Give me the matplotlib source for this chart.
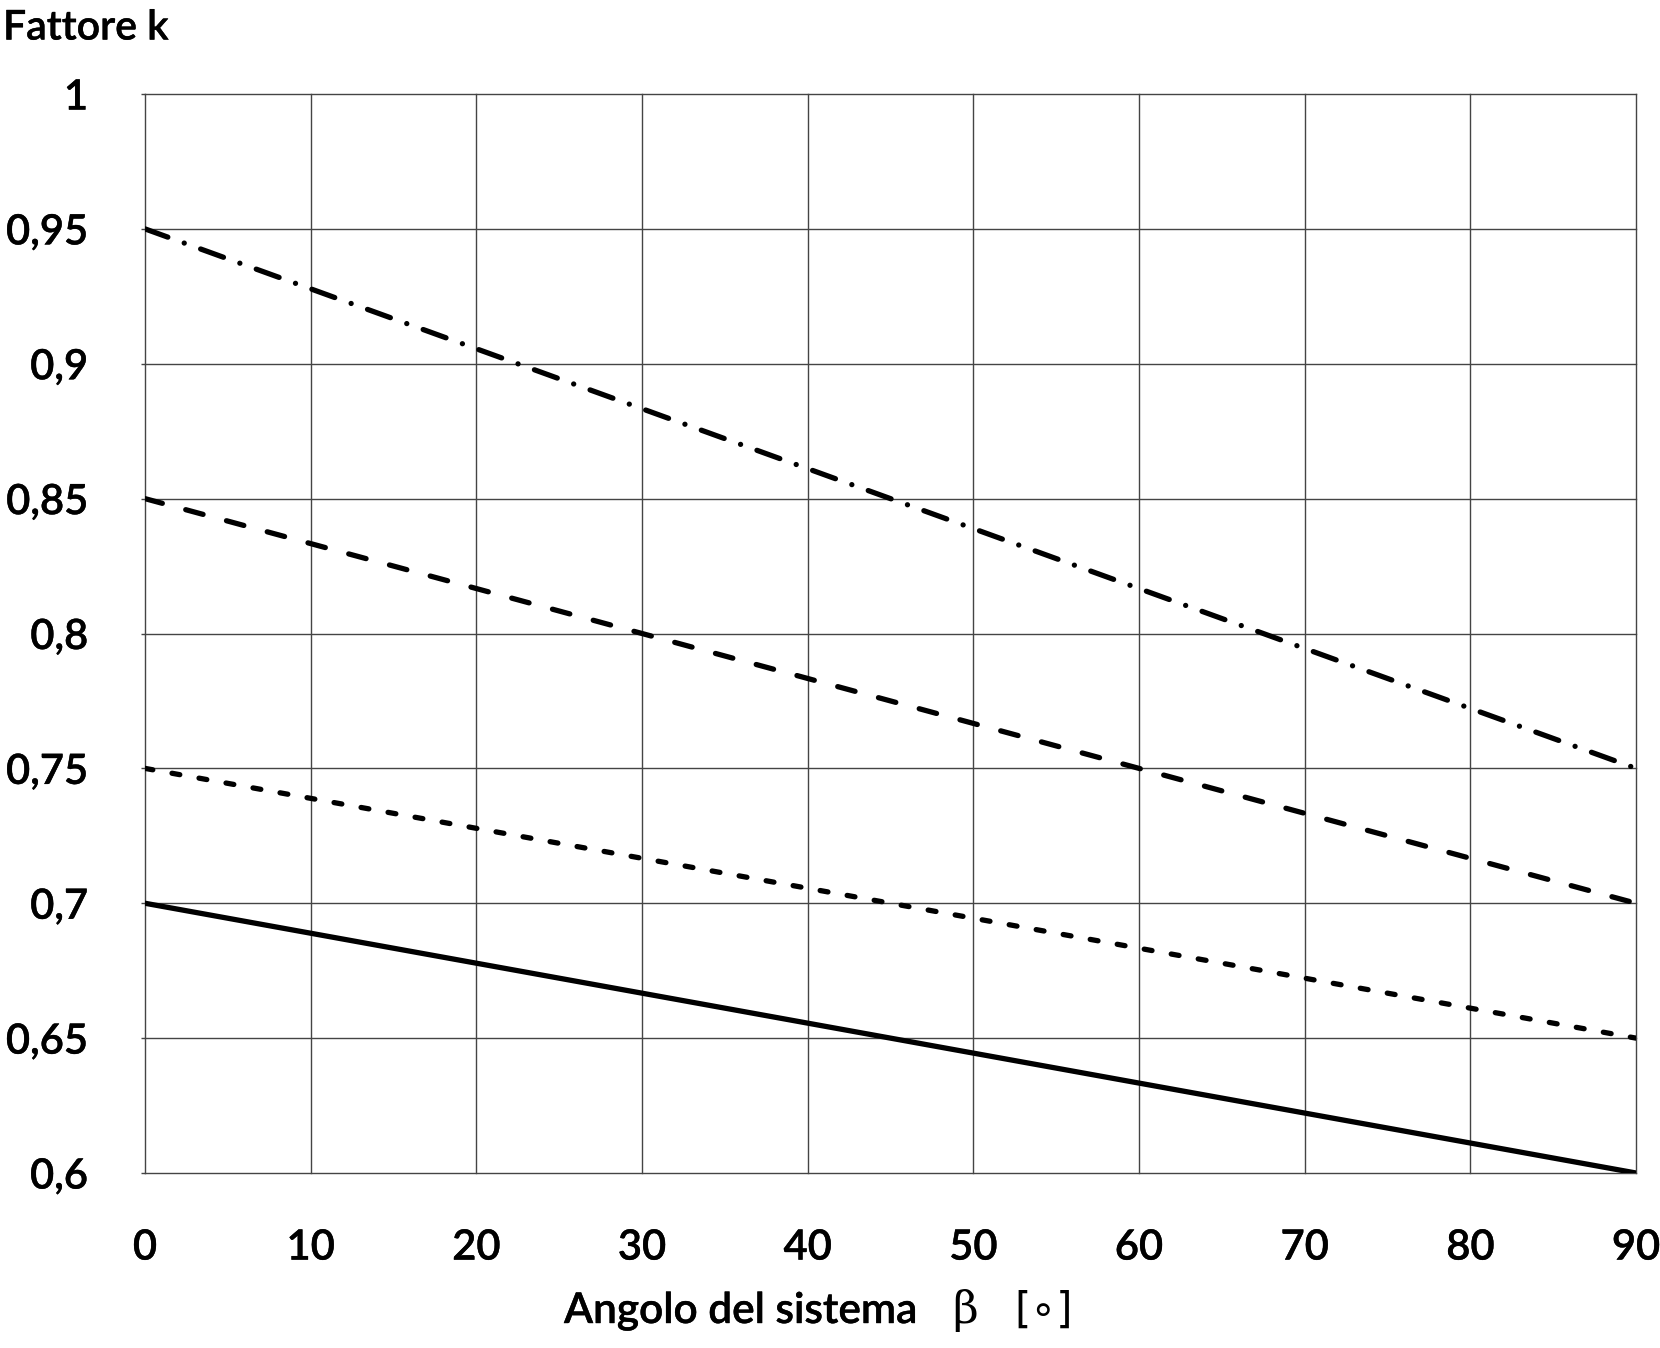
import matplotlib
matplotlib.use("Agg")
import matplotlib.pyplot as plt
import matplotlib.patheffects as pe

# Data
angles = [0, 90]
k_solid = [0.70, 0.60]
k_short_dash = [0.75, 0.65]
k_dashed = [0.85, 0.70]
k_dash_dot = [0.95, 0.75]

x_ticks = [0, 10, 20, 30, 40, 50, 60, 70, 80, 90]
y_ticks = [0.6, 0.65, 0.7, 0.75, 0.8, 0.85, 0.9, 0.95, 1.0]
y_tick_labels = ["0,6", "0,65", "0,7", "0,75", "0,8", "0,85", "0,9", "0,95", "1"]

plt.rcParams['font.family'] = ['Lato', 'DejaVu Sans']
plt.rcParams['font.weight'] = 'semibold'

W, H = 1660, 1348
fig = plt.figure(figsize=(W / 100, H / 100), dpi=100)
ax = fig.add_axes([145 / W, 1 - 1173 / H, (1636 - 145) / W, (1173 - 94) / H])

thick = [pe.withStroke(linewidth=0.3, foreground='black')]

lw = 3.8
ax.plot(angles, k_solid, color='black', lw=lw, solid_capstyle='round', zorder=3)
ax.plot(angles, k_short_dash, color='black', lw=lw, dashes=(1.5, 3.7),
        dash_capstyle='round', zorder=3)
ax.plot(angles, k_dashed, color='black', lw=lw, dashes=(3.4, 4.6),
        dash_capstyle='round', zorder=3)
ax.plot(angles, k_dash_dot, color='black', lw=lw, dashes=(4.6, 3.3, 0.01, 3.3),
        dash_capstyle='round', zorder=3)

ax.set_xlim(0, 90)
ax.set_ylim(0.6, 1.0)
ax.set_xticks(x_ticks)
ax.set_xticklabels([str(v) for v in x_ticks])
ax.set_yticks(y_ticks)
ax.set_yticklabels(y_tick_labels)
ax.tick_params(axis='both', labelsize=30, colors='black')
ax.tick_params(axis='x', length=0, pad=40)
ax.tick_params(axis='y', length=3, width=1.0, color='#444444', pad=38)
for lab in ax.get_xticklabels() + ax.get_yticklabels():
    lab.set_path_effects(thick)

ax.grid(True, color='#444444', lw=1.0)
for gl in ax.get_xgridlines() + ax.get_ygridlines():
    gl.set_clip_on(False)
for s in ax.spines.values():
    s.set_visible(False)

fig.text(3 / W, 1 - 28 / H, "Fattore k", fontsize=29.5, ha='left', va='center',
         path_effects=thick)
fig.text(564 / W, 1 - 1323 / H, "Angolo del sistema", fontsize=30.5,
         ha='left', va='baseline', path_effects=thick)
fig.text(952 / W, 1 - 1323 / H, "β", fontsize=32, family=['DejaVu Serif'],
         weight='normal', ha='left', va='baseline')
fig.text(1014 / W, 1 - 1323 / H, "[∘]", fontsize=30,
         family=['DejaVu Sans'], weight='normal', ha='left', va='baseline')

fig.savefig("out.png", dpi=100, facecolor='white')
